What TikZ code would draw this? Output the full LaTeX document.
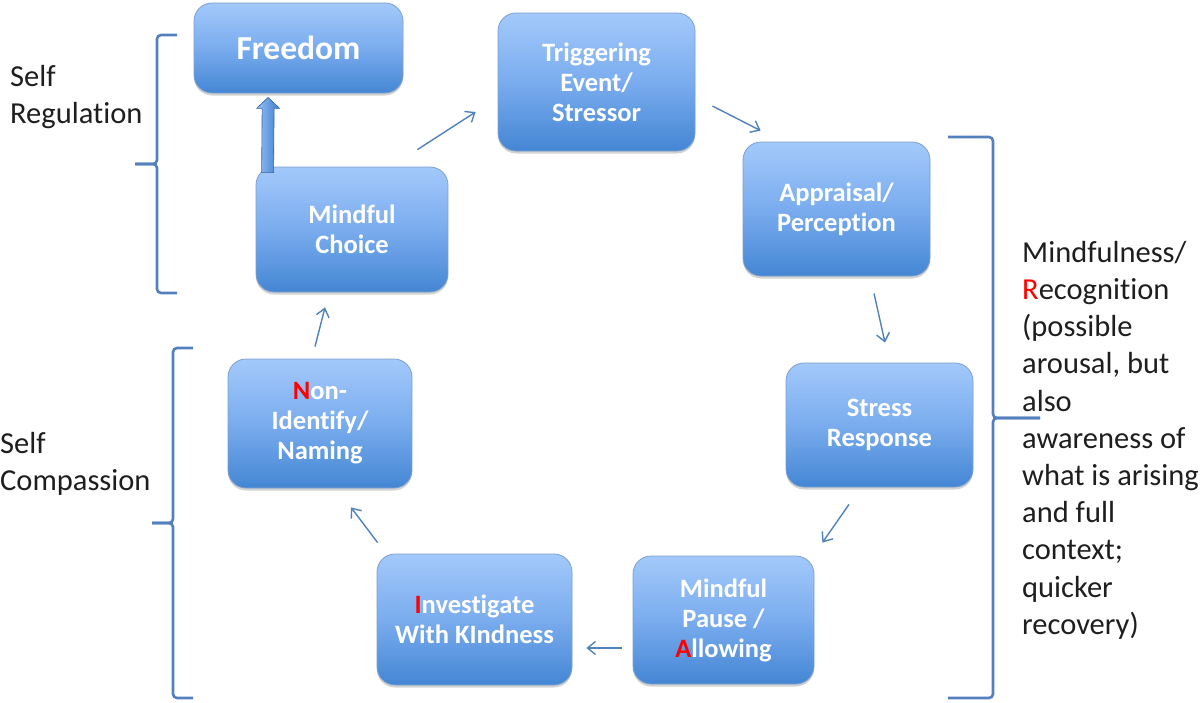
\documentclass[tikz,border=0pt]{standalone}
\usepackage{fontspec}
\setmainfont{Carlito}[Ligatures=NoCommon]
\usetikzlibrary{calc,shadows,arrows.meta}
\definecolor{boxtop}{RGB}{163,201,251}
\definecolor{boxmid}{RGB}{122,172,238}
\definecolor{boxbot}{RGB}{68,134,212}
\definecolor{boxline}{RGB}{125,160,205}
\definecolor{connc}{RGB}{79,129,189}
\definecolor{brkc}{RGB}{84,128,190}
\definecolor{txtc}{RGB}{30,30,30}
\definecolor{redl}{RGB}{255,0,0}
\definecolor{barL}{RGB}{150,192,245}
\definecolor{barR}{RGB}{60,125,205}
\begin{document}
\begin{tikzpicture}[x=1pt,y=-1pt,
  cyclebox/.style={draw=boxline, line width=0.8pt, rounded corners=18pt,
    top color=boxtop, bottom color=boxbot, middle color=boxmid,
    text=white, font=\fontsize{26.5}{30}\selectfont\bfseries, align=center,
    inner sep=0pt, drop shadow={shadow xshift=0pt, shadow yshift=-2.5pt, opacity=0.35}},
  conn/.style={draw=connc, line width=1.4pt, -{Straight Barb[length=8pt,width=13pt,line width=1.4pt]}},
  brk/.style={draw=brkc, line width=2.6pt, rounded corners=4pt},
  lbl/.style={text=txtc, font=\fontsize{30.5}{37.2}\selectfont, inner sep=0pt, align=left}]
\useasboundingbox (0,0) rectangle (1202,702);

% boxes
\node[cyclebox, minimum width=209pt, minimum height=90pt, font=\fontsize{33.5}{38}\selectfont\bfseries] (free) at (298.5,48) {Freedom};
\node[cyclebox, minimum width=197pt, minimum height=138pt] (trig) at (596.5,82) {Triggering\\Event/\\Stressor};
\node[cyclebox, minimum width=187pt, minimum height=134pt] (app) at (836.5,209) {Appraisal/\\Perception};
\node[cyclebox, minimum width=187pt, minimum height=124pt] (stress) at (879.5,425) {Stress\\Response};
\node[cyclebox, minimum width=181pt, minimum height=128pt] (pause) at (723.5,620) {Mindful\\Pause /\\\textcolor{redl}{A}llowing};
\node[cyclebox, minimum width=195pt, minimum height=131pt] (inv) at (474.5,619.5) {\textcolor{redl}{I}nvestigate\\With KIndness};
\node[cyclebox, minimum width=184pt, minimum height=129pt] (nonid) at (320,423.5) {\textcolor{redl}{N}on-\\Identify/\\Naming};
\node[cyclebox, minimum width=192pt, minimum height=125pt] (choice) at (352,229.5) {Mindful\\Choice};

% connectors
\draw[conn] ($(choice.north east)+(-31,-17)$) -- ($(trig.west)+(-22,30)$);
\draw[conn] ($(trig.east)+(17,24)$) -- ($(app.north west)+(18,-11)$);
\draw[conn] ($(app.south)+(37.5,17)$) -- ($(stress.north)+(5.5,-20)$);
\draw[conn] ($(stress.south)+(-30.5,17)$) -- ($(pause.north east)+(8,-13)$);
\draw[conn] ($(pause.west)+(-11,28)$) -- ($(inv.east)+(14,28.5)$);
\draw[conn] ($(inv.north west)+(1,-11)$) -- ($(nonid.south)+(31,19)$);
\draw[conn] ($(nonid.north)+(-5,-12)$) -- ($(choice.south)+(-27,15)$);

% block arrow choice -> freedom
\coordinate (bbase) at ($(choice.north west)+(12,6)$);
\coordinate (btip) at ($(free.south west)+(74.5,4)$);
\draw[draw=barR!80!black, line width=0.6pt, left color=barL, right color=barR]
  ($(bbase)+(-6,0)$) -- ($(btip)+(-6,11)$) -- ($(btip)+(-11.5,11)$) -- (btip)
  -- ($(btip)+(11.5,11)$) -- ($(btip)+(6,11)$) -- ($(bbase)+(6,0)$) -- cycle;

% brackets
\draw[brk] (177,35) -- (157,35) -- (157,164) -- (135,164);
\draw[brk] (135,164) -- (157,164) -- (157,293) -- (177,293);
\draw[brk] (193,348) -- (173,348) -- (173,523) -- (152,523);
\draw[brk] (152,523) -- (173,523) -- (173,698) -- (193,698);
\draw[brk] (948,137) -- (993,137) -- (993,418) -- (1040,418);
\draw[brk] (1040,418) -- (993,418) -- (993,698) -- (948,698);

% labels
\node[lbl, anchor=north west] (reg) at (10,65) {Self\\Regulation};
\node[lbl, anchor=north west] (comp) at (0,432) {Self\\Compassion};
\node[lbl, anchor=north west] (mind) at (1022,241) {Mindfulness/\\\textcolor{redl}{R}ecognition\\(possible\\arousal, but\\also\\awareness of\\what is arising\\and full\\context;\\quicker\\recovery)};
\end{tikzpicture}
\end{document}
